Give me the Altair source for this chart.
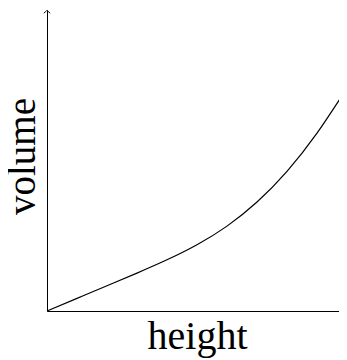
import altair as alt
import pandas as pd

# Curve (arbitrary units)
height_vals = [0, 1, 2, 3, 4, 5, 6, 7, 8, 9, 10]
volume_vals = [0, 0.42, 0.84, 1.26, 1.70, 2.20, 2.82, 3.62, 4.64, 5.91, 7.41]

x_max = 10
y_max = 10

df = pd.DataFrame({"height": height_vals, "volume": volume_vals})

xs = alt.Scale(domain=[0, x_max], nice=False, zero=False)
ys = alt.Scale(domain=[0, y_max], nice=False, zero=False)

x_axis = alt.Axis(
    title="height", labels=False, ticks=False, grid=False,
    domainColor="black", domainWidth=1,
    titleFont="Liberation Serif", titleFontSize=40, titleFontWeight="normal",
    titleColor="black", titleBaseline="alphabetic", titleY=37, titleX=150,
    titleAlign="center",
)
y_axis = alt.Axis(
    title="volume", labels=False, ticks=False, grid=False,
    domainColor="black", domainWidth=1,
    titleFont="Liberation Serif", titleFontSize=39, titleFontWeight="normal",
    titleColor="black", titleBaseline="alphabetic", titleX=-13, titleY=146,
    titleAlign="center", titleAngle=270,
)

curve = alt.Chart(df).mark_line(
    color="black", strokeWidth=1.2, interpolate="natural"
).encode(
    x=alt.X("height:Q", scale=xs, axis=x_axis),
    y=alt.Y("volume:Q", scale=ys, axis=y_axis),
)

arrow_shape = "M -1 -1 Q -0.45 -0.3 -0.1 0 Q -0.45 0.3 -1 1"

arrows_df = pd.DataFrame({
    "height": [x_max, 0],
    "volume": [0, y_max],
    "rot": [0, 270],
})

arrows = alt.Chart(arrows_df).mark_point(
    shape=arrow_shape, filled=False, stroke="black", strokeWidth=1,
    size=40, opacity=1,
).encode(
    x=alt.X("height:Q", scale=xs),
    y=alt.Y("volume:Q", scale=ys),
    angle=alt.Angle("rot:Q", scale=None),
)

chart = alt.layer(curve, arrows).properties(
    width=300, height=301,
    background="white",
    autosize=alt.AutoSizeParams(type="none"),
    padding={"left": 39, "top": 2, "right": -8, "bottom": 49},
).configure_view(stroke=None, strokeWidth=0)

chart.save("out.html", embed_options={"renderer": "svg", "actions": False})
